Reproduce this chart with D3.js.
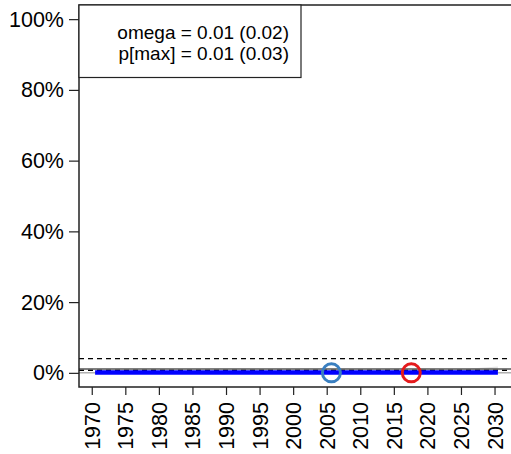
<!DOCTYPE html>
<html>
<head>
<meta charset="utf-8">
<script src="https://cdn.jsdelivr.net/npm/d3@7"></script>
<style>
  html, body { margin: 0; padding: 0; background: #fff; }
  svg { display: block; font-family: "Liberation Sans", Arial, sans-serif; }
</style>
</head>
<body>
<div id="chart"></div>
<script>
// ── Data ──────────────────────────────────────────────────────────────────────
const years = [1970.5, 1975.5, 1980.5, 1985.5, 1990.5, 1995.5, 2000.5, 2005.5, 2010.5, 2015.5, 2020.5, 2025.5, 2030.5];
const estimate = [0.001, 0.001, 0.001, 0.001, 0.001, 0.001, 0.001, 0.001, 0.001, 0.001, 0.001, 0.001, 0.001];
const bandLow = [0, 0, 0, 0, 0, 0, 0, 0, 0, 0, 0, 0, 0];
const bandHigh = [0.006, 0.006, 0.005, 0.004, 0.003, 0.003, 0.003, 0.003, 0.003, 0.004, 0.006, 0.011, 0.018];
const xTicks = [1970, 1975, 1980, 1985, 1990, 1995, 2000, 2005, 2010, 2015, 2020, 2025, 2030];
const yTicks = [0, 0.2, 0.4, 0.6, 0.8, 1.0];
const markers = [
  { year: 2005.7, value: 0, color: "#3a7fc0" },
  { year: 2017.6, value: 0, color: "#e41a1c" },
];
const refLines = [
  { value: 0.04, color: "#000", dash: "5,4", width: 1.2 },
  { value: 0.011, color: "#555", dash: null, width: 1.5 },
  { value: 0.007, color: "#000", dash: "5,4", width: 1.2 },
  { value: 0, color: "#888", dash: null, width: 1 },
];
const legendLines = ["omega = 0.01 (0.02)", "p[max] = 0.01 (0.03)"];

// ── Chart ─────────────────────────────────────────────────────────────────────
const width = 511, height = 454;
const plot = { left: 79, top: 5, right: 514, bottom: 387 };
const tickFont = "21.5px";

const svg = d3.select("#chart").append("svg")
  .attr("width", width).attr("height", height);

const x = d3.scaleLinear().domain([1968.1, 2032.9]).range([plot.left, plot.right]);
const y = d3.scaleLinear().domain([-0.04, 1.04]).range([plot.bottom, plot.top]);

// Uncertainty band.
const area = d3.area()
  .x((d, i) => x(years[i]))
  .y0((d, i) => y(bandLow[i]))
  .y1((d, i) => y(bandHigh[i]))
  .curve(d3.curveMonotoneX);
svg.append("path").datum(years).attr("d", area).attr("fill", "#e4e4e4");

// Reference lines.
for (const r of refLines) {
  svg.append("line")
    .attr("x1", plot.left).attr("x2", plot.right)
    .attr("y1", y(r.value)).attr("y2", y(r.value))
    .attr("stroke", r.color).attr("stroke-width", r.width)
    .attr("stroke-dasharray", r.dash);
}

// Estimate line.
const line = d3.line().x((d, i) => x(years[i])).y((d, i) => y(estimate[i]));
svg.append("path").datum(years).attr("d", line)
  .attr("fill", "none").attr("stroke", "#0000ff").attr("stroke-width", 4.5);

// Markers.
svg.selectAll("circle.marker").data(markers).join("circle")
  .attr("class", "marker")
  .attr("cx", d => x(d.year)).attr("cy", d => y(d.value)).attr("r", 9)
  .attr("fill", "none").attr("stroke", d => d.color).attr("stroke-width", 3);

// Frame (left, top, bottom; right side lies outside the window).
svg.append("path")
  .attr("d", `M${plot.right},${plot.top}H${plot.left}V${plot.bottom}H${plot.right}`)
  .attr("fill", "none").attr("stroke", "#222").attr("stroke-width", 1.5);

// Axes.
const yAxis = svg.append("g").attr("transform", `translate(${plot.left},0)`)
  .call(d3.axisLeft(y).tickValues(yTicks).tickSize(10).tickPadding(5)
    .tickFormat(d => `${Math.round(d * 100)}%`));
yAxis.select(".domain").remove();
yAxis.selectAll("line").attr("stroke", "#222").attr("stroke-width", 1.2);
yAxis.selectAll("text").attr("font-size", tickFont).attr("fill", "#000")
  .attr("font-family", "Liberation Sans, Arial, sans-serif");

const xAxis = svg.append("g").attr("transform", `translate(0,${plot.bottom})`)
  .call(d3.axisBottom(x).tickValues(xTicks).tickSize(8).tickFormat(d3.format("d")));
xAxis.select(".domain").remove();
xAxis.selectAll("line").attr("stroke", "#222").attr("stroke-width", 1.2);
xAxis.selectAll("text")
  .attr("font-size", tickFont).attr("fill", "#000")
  .attr("font-family", "Liberation Sans, Arial, sans-serif")
  .attr("text-anchor", "end")
  .attr("transform", "rotate(-90)")
  .attr("x", -15).attr("y", 0).attr("dy", "0.35em");

// Legend box.
const legend = svg.append("g");
legend.append("rect")
  .attr("x", plot.left).attr("y", plot.top).attr("width", 222).attr("height", 72.5)
  .attr("fill", "#fff").attr("stroke", "#222").attr("stroke-width", 1.2);
legend.selectAll("text").data(legendLines).join("text")
  .attr("x", 289).attr("y", (d, i) => 38.5 + i * 21.5)
  .attr("text-anchor", "end").attr("font-size", "19px").attr("fill", "#000")
  .text(d => d);
</script>
</body>
</html>
